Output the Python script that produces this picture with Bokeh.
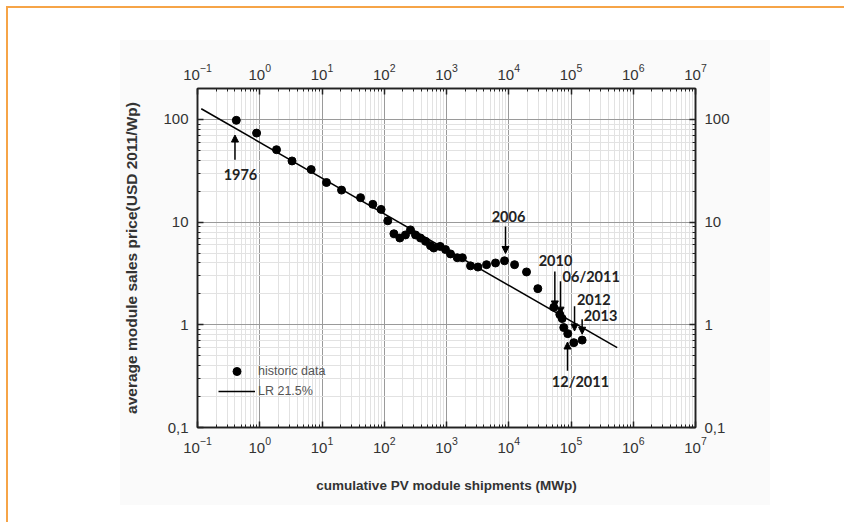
from bokeh.plotting import figure
from bokeh.models import (LogAxis, FixedTicker, CustomJSTickFormatter, Arrow, NormalHead,
                          Legend, LegendItem, Range1d, ColumnDataSource, InlineStyleSheet)
from bokeh.core.properties import value
from bokeh.embed import file_html
from bokeh.resources import INLINE

# Cumulative PV module shipments (MWp) and average module price (USD 2011/Wp)
cum_mwp = [0.42, 0.89, 1.86, 3.3, 6.7, 11.8, 20.6, 41.6, 65.5, 89, 114, 143, 178, 219,
           264, 318, 382, 460, 553, 625, 790, 964, 1160, 1490, 1800, 2430, 3200, 4400,
           6130, 8550, 12400, 19300, 29300, 53000, 66100, 72100, 76500, 88700, 111000,
           151000]
price = [98, 73.6, 50.7, 39.4, 32.5, 24.3, 20.5, 17.3, 14.9, 13.3, 10.3, 7.7, 7.0, 7.5,
         8.4, 7.5, 7.0, 6.5, 5.9, 5.6, 5.8, 5.4, 4.9, 4.5, 4.5, 3.75, 3.65, 3.85,
         4.0, 4.2, 3.85, 3.27, 2.25, 1.48, 1.26, 1.15, 0.94, 0.82, 0.67, 0.71]

# Learning-rate line (LR 21.5 %), end points
lr_mwp = [0.115, 552000]
lr_price = [127, 0.60]

# Milestone labels and their arrows
ann_text = ["1976", "2006", "2010", "06/2011", "2012", "2013", "12/2011"]
ann_x = [0.49, 9900, 56400, 211000, 232000, 298000, 142000]
ann_y = [29.0, 11.3, 4.25, 2.96, 1.76, 1.24, 0.279]
arrow_x = [0.40, 8870, 55000, 67800, 114000, 151000, 87900]
arrow_from = [40.4, 9.04, 3.31, 2.65, 1.52, 1.135, 0.356]
arrow_to = [70.5, 4.95, 1.46, 1.27, 0.87, 0.81, 0.68]

# Axis ticks
x_major = [10.0 ** e for e in range(-1, 8)]
y_major = [0.1, 1, 10, 100]
y_labels = ["0,1", "1", "10", "100"]

x_minor = [k * 10.0 ** e for e in range(-1, 7) for k in range(2, 10)]
y_minor = [k * 10.0 ** e for e in range(-1, 3) for k in range(2, 10)]

# page decoration: orange page edge and a very light panel behind the chart
page_css = InlineStyleSheet(css="""
:host { position: relative; }
:host::before {
  content: ""; position: absolute; left: 6px; top: 6px; right: 0; bottom: 0;
  border-left: 2px solid #f6a447; border-top: 2px solid #f6a447;
  pointer-events: none; z-index: 10;
}
:host::after {
  content: ""; position: absolute; left: 120px; top: 40px; width: 650px; height: 465px;
  background: #fafafa; pointer-events: none; z-index: -1;
}
""")

p = figure(width=844, height=522, x_axis_type="log", y_axis_type="log",
           x_range=Range1d(0.1, 1e7), y_range=Range1d(0.1, 200),
           output_backend="svg", toolbar_location=None,
           min_border_left=197, min_border_right=149, min_border_top=88,
           min_border_bottom=95, stylesheets=[page_css])
p.background_fill_color = "white"
p.border_fill_color = None
p.outline_line_color = "black"
p.outline_line_width = 1.5

xt = FixedTicker(ticks=x_major, minor_ticks=x_minor)
yt = FixedTicker(ticks=y_major, minor_ticks=y_minor)
yfmt = CustomJSTickFormatter(args=dict(vals=y_major, labs=y_labels), code="""
    for (let i = 0; i < vals.length; i++) {
        if (Math.abs(Math.log10(tick) - Math.log10(vals[i])) < 1e-6) return labs[i];
    }
    return "";
""")

bottom_axis = p.below[0]
left_axis = p.left[0]
bottom_axis.ticker = xt
left_axis.ticker = yt
left_axis.formatter = yfmt
p.xgrid.ticker = xt
p.ygrid.ticker = yt

p.add_layout(LogAxis(ticker=xt), "above")
p.add_layout(LogAxis(ticker=yt, formatter=yfmt), "right")

for ax in p.axis:
    ax.axis_line_width = 1.5
    ax.axis_line_color = "#222"
    ax.major_tick_in = 6
    ax.major_tick_out = 0
    ax.minor_tick_in = 3
    ax.minor_tick_out = 0
    ax.major_tick_line_width = 1.5
    ax.major_tick_line_color = "#222"
    ax.minor_tick_line_color = "#222"
    ax.major_label_text_font = "Liberation Sans"
    ax.major_label_text_font_size = "15px"
    ax.major_label_text_color = "#333"
    ax.major_label_standoff = 9

bottom_axis.axis_label = "cumulative PV module shipments (MWp)"
left_axis.axis_label = "average module sales price(USD 2011/Wp)"
for ax in (bottom_axis, left_axis):
    ax.axis_label_text_font = "Liberation Sans"
    ax.axis_label_text_font_style = "bold"
    ax.axis_label_text_color = "#333"
bottom_axis.axis_label_text_font_size = "13.5px"
left_axis.axis_label_text_font_size = "15.5px"
bottom_axis.axis_label_standoff = 22
left_axis.axis_label_standoff = 20

for g in (p.xgrid[0], p.ygrid[0]):
    g.grid_line_color = "#9a9a9a"
    g.grid_line_width = 1
    g.minor_grid_line_color = "#e2e2e2"
    g.minor_grid_line_width = 1

r_line = p.line(lr_mwp, lr_price, line_color="black", line_width=1.5)
r_pts = p.scatter(cum_mwp, price, size=8, fill_color="black", line_color="black")

arrows = ColumnDataSource(dict(x=arrow_x, y0=arrow_from, y1=arrow_to))
p.add_layout(Arrow(source=arrows, x_start="x", y_start="y0", x_end="x", y_end="y1",
                   line_color="black", line_width=1.5,
                   end=NormalHead(size=7, fill_color="black", line_color="black")))

p.text(x=ann_x, y=ann_y, text=ann_text, text_font=value("Lato"),
       text_font_style="bold", text_font_size="14.5px", text_color="#222",
       text_align="center", text_baseline="middle")

legend = Legend(items=[LegendItem(label="historic data", renderers=[r_pts]),
                       LegendItem(label="LR 21.5%", renderers=[r_line])],
                location=(21, 26), padding=0, margin=0, spacing=0,
                glyph_width=37, glyph_height=20, label_height=20, label_standoff=3,
                label_text_font="Liberation Sans", label_text_font_size="12.5px",
                label_text_color="#555", border_line_color=None,
                background_fill_alpha=0)
p.add_layout(legend)

open("out.html", "w").write(file_html(p, INLINE))
